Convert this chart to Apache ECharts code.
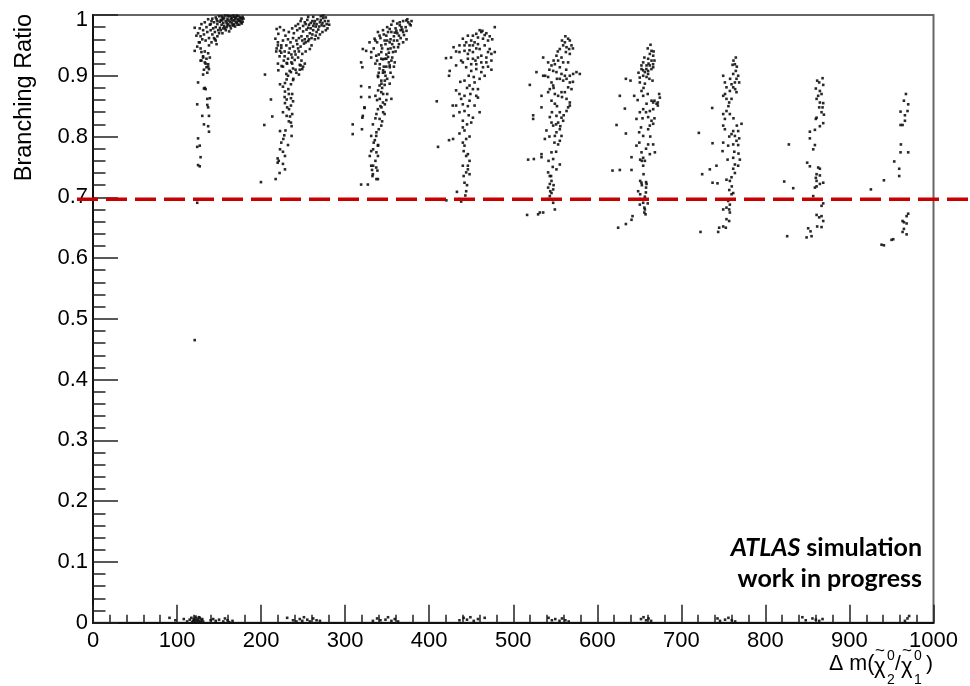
<!DOCTYPE html>
<html><head><meta charset="utf-8">
<script src="https://cdn.jsdelivr.net/npm/echarts@6/dist/echarts.min.js"></script>
<style>html,body{margin:0;padding:0;background:#fff}#c{width:970px;height:686px}</style>
</head><body><div id="c"></div>
<script>
const xTickLabels = ['0','100','200','300','400','500','600','700','800','900','1000'];
const yTickLabels = ['0','0.1','0.2','0.3','0.4','0.5','0.6','0.7','0.8','0.9','1'];
const refLineY = 0.697;
const yTitle = 'Branching Ratio';
const noteLine1 = ['ATLAS', 'simulation'];
const noteLine2 = 'work in progress';

const c1 = [
[150,0.998],[152,0.992],[154,0.996],[155,0.987],[157,0.999],[158,0.990],[160,0.994],[161,0.985],[162,0.998],[163,0.989],[165,0.995],[166,0.983],[167,0.999],[168,0.991],[170,0.996],[171,0.987],[172,0.993],[173,0.998],[175,0.990],[176,0.995],[178,0.997],[177,0.986],[174,0.984],[169,0.981],[164,0.978],[159,0.980],[156,0.982],[153,0.984],[151,0.979],[148,0.985],[147,0.993],[149,0.975],[146,0.980],[158,0.975],[162,0.973],[166,0.991],[171,0.999],[160,0.999],[155,0.993],[153,0.998],[174,0.992],[168,0.985],[163,0.982],[157,0.978],[150,0.970],[145,0.972],[144,0.988],[143,0.978],
[151,0.989],[153,0.991],[156,0.995],[159,0.987],[161,0.991],[164,0.993],[165,0.987],[167,0.983],[169,0.994],[170,0.989],[172,0.984],[173,0.990],[175,0.996],[176,0.988],[177,0.993],[178,0.989],[179,0.994],[155,0.978],[160,0.983],[148,0.990],[146,0.996],[142,0.994],[140,0.985],[152,0.975],[154,0.970],[148,0.965],[145,0.960],[147,0.952],[164,0.998],[168,0.997],
[141,0.990],[139,0.984],[137,0.993],[135,0.980],[133,0.988],[131,0.975],[129,0.985],[127,0.978],[125,0.970],[128,0.965],[132,0.968],[136,0.972],[140,0.975],[142,0.968],[138,0.962],[134,0.958],[130,0.960],[126,0.955],[144,0.962],[146,0.958],[141,0.955],[138,0.950],[124,0.948],[128,0.945],[133,0.940],[137,0.937],[131,0.932],[135,0.928],[139,0.930],[129,0.925],[134,0.920],[137,0.915],[132,0.910],[136,0.905],
[121,0.979],[123,0.966],[127,0.955],[121,0.941],[129,0.939],[131,0.930],[128,0.925],[133,0.922],[137,0.919],[135,0.914],[138,0.911],
[131,0.902],[125,0.889],[133,0.880],[134,0.878],[132,0.879],[139,0.863],[136,0.862],[136,0.852],[137,0.848],[124,0.853],[130,0.834],[138,0.834],[132,0.820],[137,0.817],[138,0.808],[125,0.797],[127,0.785],[124,0.783],[128,0.766],[125,0.753],[127,0.751],[124,0.691]
];
const c2 = [
[244,0.985],[247,0.990],[250,0.982],[252,0.988],[255,0.992],[257,0.984],[259,0.978],[261,0.990],[263,0.986],[265,0.981],[267,0.993],[268,0.976],[270,0.988],[272,0.983],[274,0.995],[276,0.990],[278,0.985],[279,0.978],[273,0.972],[270,0.968],[266,0.972],[262,0.975],[258,0.970],[254,0.976],[250,0.973],[246,0.978],[243,0.975],[241,0.982],[239,0.970],[237,0.978],[255,0.965],[260,0.962],[264,0.960],[252,0.960],[248,0.965],[245,0.962],[242,0.958],[238,0.962],[235,0.955],[232,0.960],[229,0.966],[226,0.958],[230,0.950],[234,0.945],[238,0.948],[243,0.952],[247,0.948],[251,0.953],[256,0.957],[260,0.950],[258,0.944],[253,0.940],[249,0.936],[245,0.940],[241,0.935],[237,0.930],[233,0.938],[228,0.940],[224,0.946],[220,0.950],[218,0.940],[222,0.932],[227,0.925],[231,0.920],[236,0.922],[240,0.926],[244,0.930],[248,0.925],[252,0.920],[250,0.915],[246,0.910],[242,0.905],[238,0.912],[234,0.908],[230,0.903],[226,0.915],[220,0.920],[274,0.999],[277,0.996],[271,0.998],[262,0.997],[256,0.997],
[248,0.994],[253,0.985],[256,0.979],[259,0.987],[262,0.982],[264,0.990],[266,0.985],[269,0.981],[271,0.992],[273,0.987],[275,0.982],[277,0.975],[280,0.990],[281,0.984],[261,0.968],[257,0.960],[253,0.955],[265,0.966],[268,0.962],[249,0.958],[244,0.945],[240,0.940],[236,0.935],[232,0.928],[228,0.932],[224,0.938],[218.5,0.977],[222.5,0.980],[220.5,0.969],[217,0.961],[220,0.955],[224,0.950],[218.5,0.945],[222.5,0.941],[233,0.972],[227,0.975],[246,0.918],[249,0.911],[247,0.917],
[204.6,0.902],[220.5,0.909],[224.4,0.916],[230.4,0.921],[237,0.920],[235.5,0.906],[230.4,0.894],[222.5,0.886],[228.4,0.888],[235.5,0.886],[238.3,0.895],[232.4,0.878],[228.4,0.874],[235.5,0.863],[237,0.870],[228.4,0.855],[230.4,0.861],[211.7,0.861],[233.2,0.845],[235.5,0.851],[213.3,0.833],[230.4,0.834],[234.4,0.833],[237,0.837],[203.8,0.819],[235.5,0.823],[236.3,0.817],[222.5,0.809],[236.3,0.801],[226.4,0.796],[227.6,0.802],[222.5,0.779],[228.4,0.768],[219.7,0.764],[219.7,0.757],[228.4,0.746],[217.3,0.730],[199.8,0.725],
[232,0.900],[238,0.893],[226,0.882],[233,0.870],[228,0.865],[238,0.858],[231,0.848],[226,0.840],[233,0.825],[229,0.810],[224,0.790],[232,0.786],[226,0.775],[221,0.760],[226,0.755],[222,0.740],[241,0.910],[245,0.902]
];
const c3 = [
[372.8,0.991],[376.8,0.985],[365,0.988],[367,0.980],[361,0.974],[353,0.977],[355,0.972],[349,0.966],[347,0.958],[339,0.972],[335,0.961],[329,0.955],[325,0.941],[321,0.944],[319,0.922],[320.5,0.914],[331,0.939],[337,0.933],[343,0.950],[351,0.944],[357,0.939],[363,0.947],[369,0.972],[373,0.974],[364,0.966],[358,0.958],[353,0.955],[343,0.939],[349,0.928],[353,0.917],[347,0.906],[359,0.922],[350,0.895],[353,0.887],[341,0.884],[343,0.873],[336,0.867],[350,0.870],[355,0.862],[345,0.856],[339,0.845],[347,0.837],[341,0.829],[333,0.820],[343,0.818],[337,0.801],[331,0.801],[339,0.785],[331,0.776],[339,0.768],[331,0.752],[337,0.749],[333,0.738],[339,0.730],[319,0.721],[327,0.721],[309,0.820],[309,0.804],[320.5,0.831],[323,0.848],[319,0.883],[329,0.881],
[350,0.980],[355,0.984],[360,0.978],[365,0.983],[368,0.976],[372,0.980],[375,0.988],[378,0.983],[362,0.970],[358,0.965],[354,0.960],[346,0.968],[342,0.962],[338,0.955],[344,0.945],[348,0.952],[356,0.952],[362,0.958],[366,0.962],[370,0.967],[373,0.960],[352,0.938],[356,0.930],[345,0.927],[340,0.935],[334,0.945],[331,0.930],[336,0.920],[341,0.912],[345,0.905],[349,0.915],[339,0.900],[343,0.892],[347,0.885],
[341.2,0.919],[347.2,0.928],[351.1,0.931],[355,0.925],[353.1,0.914],[345.2,0.909],[339.2,0.898],[343.2,0.887],[347.2,0.892],[357,0.898],[339.2,0.876],[345.2,0.870],[341.2,0.862],[347.2,0.853],[343.2,0.848],[345.2,0.840],[337.2,0.837],
[337.2,0.730],[332.5,0.735],[338.4,0.744],[333.3,0.752],[329.3,0.768],[337.2,0.774],[333.3,0.779],[339.2,0.786],[335.3,0.794],[337.2,0.807],[319,0.865],[329,0.865],[321,0.834],[323,0.847],[320,0.812],
[357,0.990],[362,0.986],[369,0.990],[374,0.993],[379,0.990],[366,0.975],[359,0.971],[351,0.972],[345,0.975],[341,0.966],[336,0.958],[350,0.958],[358,0.947],[364,0.952],[369,0.955],[360,0.940],[354,0.945],[349,0.935],[343,0.928],[338,0.925],[352,0.922],[358,0.915],[346,0.915],[340,0.905],[348,0.900],[354,0.905],[344,0.880],[338,0.860],[349,0.860],[342,0.850],[336,0.830],[344,0.825],[340,0.812],[334,0.790],[336,0.760],[332,0.745]
];
const c4 = [
[478,0.980],[462,0.972],[466,0.967],[463.3,0.974],[452,0.966],[456,0.969],[440,0.961],[444,0.955],[450,0.958],[452,0.950],[458,0.952],[460,0.944],[466,0.950],[429,0.947],[436,0.939],[442,0.941],[446,0.936],[452,0.939],[462,0.933],[474,0.936],[478,0.939],[468,0.930],[420,0.929],[424.4,0.908],[423.6,0.900],[432,0.917],[440,0.922],[444,0.914],[450,0.908],[456,0.911],[462,0.906],[466,0.900],[460,0.895],[468,0.922],[474,0.925],[442,0.892],[448,0.884],[454,0.889],[452,0.878],[456,0.867],[458,0.864],[442,0.867],[438,0.862],[432,0.876],[409,0.858],[432,0.851],[428,0.851],[440,0.853],[448,0.859],[454,0.851],[460,0.840],[442,0.842],[452,0.831],[450,0.823],[429,0.834],[440,0.826],[440,0.815],[442,0.810],[444,0.796],[440,0.790],[441,0.776],[446,0.771],[444,0.768],[448,0.760],[440,0.752],[444,0.741],[446,0.746],[448,0.738],[442,0.724],[444,0.710],[433,0.709],[436,0.697],[438,0.693],[420.4,0.695],[410.5,0.783],[423.6,0.794],[428.4,0.796],
[448,0.950],[454,0.955],[458,0.963],[464,0.961],[470,0.958],[446,0.966],[442,0.950],[452,0.928],[458,0.930],[462,0.922],[456,0.919],[450,0.919],[464,0.914],[470,0.939],[472,0.944],
[460,0.975],[468,0.970],[472,0.965],[475,0.960],[448,0.942],[456,0.945],[436,0.950],[432,0.940],[426,0.930],[438,0.925],[446,0.928],[455,0.925],[470,0.915],[474,0.910],[447,0.900],[453,0.898],[437,0.890],[445,0.880],[458,0.878],[449,0.870],[436,0.870],[446,0.850],[436,0.840],[447,0.835],[445,0.820],[436,0.805],[448,0.800],[442,0.785],[446,0.752],[441,0.735],[445,0.720],[443,0.703]
];
const c5 = [
[565.3,0.961],[567.3,0.958],[561.4,0.955],[559.4,0.950],[563.4,0.947],[566.5,0.944],[569.3,0.950],[555.4,0.944],[562.6,0.939],[567.3,0.936],[551.4,0.933],[557.4,0.930],[553.4,0.925],[559.4,0.922],[565.3,0.922],[535.6,0.930],[541.5,0.922],[545.5,0.917],[549.5,0.919],[555.4,0.914],[547.5,0.908],[551.4,0.906],[557.4,0.903],[561.4,0.900],[555.4,0.895],[559.4,0.892],[575.2,0.906],[579.2,0.903],[571.3,0.903],[567.3,0.900],[563.4,0.895],[567.3,0.889],[565.3,0.881],[569.3,0.878],[561.4,0.873],[527.6,0.906],[535.6,0.900],[541.5,0.898],[545.5,0.889],[547.5,0.884],[543.5,0.878],[519.7,0.885],[533.6,0.867],[541.5,0.873],[549.5,0.870],[553.4,0.867],[557.4,0.873],[545.5,0.859],[549.5,0.854],[563.4,0.862],[567.3,0.856],[565.3,0.848],[567.3,0.851],[563.4,0.842],[533.6,0.848],[555.4,0.840],[551.4,0.834],[557.4,0.831],[559.4,0.826],[553.4,0.823],[523.7,0.835],[523.7,0.829],[543.5,0.832],[545.5,0.823],[547.5,0.818],[555.4,0.812],[551.4,0.807],[557.4,0.801],[555.4,0.793],[553.4,0.787],[539.5,0.810],[537.6,0.796],[549.5,0.801],[533.6,0.771],[533.6,0.766],[517.7,0.762],[524.5,0.763],[545.5,0.774],[547.5,0.763],[555.4,0.754],[551.4,0.746],[541.5,0.741],[543.5,0.735],[545.5,0.727],[543.5,0.722],[541.5,0.716],[547.5,0.713],[545.5,0.707],[543.5,0.702],[541.5,0.697],[547.5,0.691],[549.5,0.680],[535.6,0.675],[529.6,0.672],[516.5,0.671],[531.6,0.675],
[562,0.965],[558,0.958],[571,0.945],[553,0.940],[548,0.925],[563,0.910],[543,0.910],[538,0.900],[552,0.895],[571,0.890],[548,0.880],[558,0.865],[552,0.850],[546,0.840],[560,0.835],[551,0.820],[556,0.817],[543,0.800],[549,0.790],[551,0.775],[542,0.760],[547,0.750],[545,0.735],[548,0.720],[544,0.710]
];
const c6 = [
[663.3,0.951],[664.5,0.941],[662.5,0.936],[666.5,0.933],[660.5,0.928],[664.5,0.925],[654.6,0.922],[658.6,0.917],[666.5,0.914],[652.6,0.911],[656.6,0.906],[660.5,0.908],[654.6,0.900],[658.6,0.898],[634,0.895],[639.5,0.892],[665.7,0.892],[650.6,0.889],[656.6,0.887],[652.6,0.875],[654.6,0.867],[643.9,0.867],[626.8,0.867],[673.6,0.870],[674.4,0.864],[664.5,0.859],[666.5,0.856],[670.5,0.854],[658.6,0.854],[654.6,0.845],[662.5,0.842],[666.5,0.845],[632.8,0.846],[650.6,0.840],[646.6,0.829],[653.8,0.830],[660.5,0.832],[664.5,0.826],[662.5,0.818],[666.5,0.821],[660.5,0.812],[622.9,0.819],[634,0.805],[649.8,0.807],[654.6,0.801],[646.6,0.785],[660.5,0.787],[666.5,0.787],[652.6,0.774],[662.5,0.771],[668.5,0.774],[640.7,0.766],[654.6,0.765],[656.6,0.760],[654.6,0.752],[618.1,0.744],[626.8,0.745],[640.7,0.745],[652.6,0.724],[658.6,0.722],[648.6,0.710],[657.8,0.708],[656.6,0.701],[650.6,0.697],[650.6,0.688],[654.6,0.691],[656.6,0.680],[657.4,0.672],[641.9,0.669],[640.7,0.663],[634,0.656],[624.8,0.650],
[652.5,0.917],[654.5,0.909],[658.4,0.911],[662.4,0.917],[666.4,0.919],[664.4,0.911],[660.4,0.903],[650.5,0.897],[672,0.851],[668,0.859],[672,0.856],[653,0.760],[651,0.762],[651,0.727],[653,0.720],[658,0.725],[658,0.716],[656,0.683],[656,0.675],
[660,0.945],[667,0.940],[656,0.930],[661,0.920],[668,0.925],[649,0.905],[662,0.895],[655,0.880],[660,0.870],[648,0.860],[658,0.840],[668,0.830],[652,0.815],[663,0.800],[650,0.790],[658,0.780],[655,0.738],[651,0.705],[660,0.690]
];
const c7 = [
[764.8,0.930],[763.7,0.919],[760.9,0.918],[764.8,0.908],[761.7,0.903],[767.6,0.900],[765.6,0.895],[768.8,0.889],[763.7,0.889],[759.7,0.886],[749.8,0.900],[751.8,0.889],[753.7,0.881],[757.7,0.875],[765.6,0.873],[761.7,0.881],[749.8,0.867],[753.7,0.862],[759.7,0.862],[756.9,0.856],[736.7,0.847],[753.7,0.842],[749.8,0.837],[757.7,0.837],[751.8,0.829],[749.8,0.818],[751.8,0.812],[771.6,0.821],[761.7,0.809],[767.6,0.809],[759.7,0.804],[763.7,0.801],[768.8,0.797],[765.6,0.793],[720.8,0.806],[737.1,0.789],[749.8,0.790],[755.7,0.785],[761.7,0.787],[767.6,0.786],[749,0.776],[761.7,0.765],[769.6,0.762],[763.7,0.754],[767.6,0.752],[761.7,0.747],[741.8,0.752],[733.9,0.746],[724.8,0.738],[763.7,0.740],[759.7,0.733],[753.7,0.729],[757.7,0.727],[737.1,0.724],[743,0.723],[761.7,0.707],[759.7,0.705],[755.7,0.694],[757.7,0.688],[749.8,0.680],[753.7,0.683],[756.9,0.680],[757.7,0.675],[753.7,0.664],[756.9,0.661],[749.8,0.652],[752.9,0.650],[745,0.650],[743.8,0.643],[722.8,0.643],
[762,0.925],[766,0.915],[758,0.895],[764,0.878],[752,0.870],[756,0.850],[762,0.830],[766,0.818],[757,0.800],[763,0.775],[768,0.772],[755,0.762],[760,0.718],[757,0.712]
];
const c8 = [
[868,0.896],[861.6,0.892],[864,0.889],[868.8,0.885],[860,0.879],[864.8,0.875],[866.8,0.870],[862.8,0.867],[860.9,0.862],[864.8,0.856],[868.8,0.855],[864,0.848],[868,0.848],[866.8,0.840],[869.6,0.836],[860.9,0.831],[860,0.829],[864.8,0.817],[868.8,0.822],[858.9,0.811],[852.9,0.808],[852.9,0.797],[858.9,0.786],[856.9,0.779],[827.9,0.787],[849.7,0.757],[852.9,0.751],[862.8,0.749],[864.8,0.747],[860.9,0.738],[864.8,0.736],[860,0.732],[860.9,0.727],[868.8,0.724],[864.8,0.722],[860.9,0.718],[858.9,0.716],[822.4,0.726],[833.1,0.715],[856.9,0.702],[868.8,0.690],[866.8,0.686],[860.9,0.671],[866.8,0.669],[864,0.667],[868.8,0.661],[861.6,0.652],[866.8,0.651],[850.9,0.649],[853.7,0.644],[849,0.634],[854.9,0.636],[825.9,0.636]
];
const c9 = [
[967.2,0.870],[964.8,0.859],[969.9,0.853],[969.1,0.842],[960.8,0.841],[966,0.835],[966,0.826],[960.8,0.819],[963.2,0.819],[961.2,0.787],[960.8,0.774],[969.9,0.774],[953.3,0.759],[959.2,0.747],[959.2,0.735],[941,0.728],[925.5,0.713],[969.9,0.673],[968,0.669],[963.2,0.661],[964.8,0.659],[968,0.657],[964.8,0.648],[963.2,0.643],[968,0.639],[952.1,0.631],[950.1,0.630],[938.2,0.622],[941,0.621]
];
const nearZero = [
[91,0.008],[98,0.004],[108,0.006],[112,0.002],[115,0.005],[117,0.008],[119,0.003],[120,0.006],[121,0.001],[122,0.004],[123,0.007],[124,0.002],[125,0.005],[126,0.003],[127,0.008],[128,0.001],[129,0.004],[130,0.006],[131,0.002],[126,0.009],[122,0.010],[118,0.001],[140,0.004],[143,0.006],[146,0.003],[150,0.005],[155,0.002],[157,0.007],[160,0.004],[162,0.001],[166,0.003],
[231,0.008],[238,0.004],[242,0.002],[246,0.006],[249,0.003],[251,0.009],[255,0.005],[258,0.002],[262,0.007],[266,0.004],[270,0.003],
[333,0.003],[338,0.007],[342,0.004],[348,0.005],[351,0.009],[355,0.003],[359,0.006],[363,0.002],
[436,0.004],[441,0.008],[445,0.005],[449,0.009],[453,0.003],[458,0.006],[466,0.008],
[542,0.008],[546,0.004],[550,0.006],[555,0.003],[558,0.007],[562,0.004],[566,0.002],
[652,0.006],[655,0.009],[658,0.004],[661,0.007],[664,0.003],
[743,0.007],[746,0.003],[752,0.005],[756,0.008],[760,0.004],[764,0.002],
[844,0.009],[848,0.004],[856,0.007],[860,0.005],[864,0.003],[868,0.006],
[966,0.003],[969,0.007],[971,0.011]
];
const outlier = [[121,0.465]];

const points = [].concat(c1, c2, c3, c4, c5, c6, c7, c8, c9, nearZero, outlier);

const chart = echarts.init(document.getElementById('c'), null, {renderer:'canvas'});
const LF = '"Liberation Sans", Arial, sans-serif';
const NF = 'Lato, "Open Sans", sans-serif';
const tickStyle = {color:'#222', width:1.5};
chart.setOption({
  animation: false,
  backgroundColor: '#fff',
  grid: [
    {left:93, right:36.5, top:15, bottom:63.3, show:true, borderColor:'#666', borderWidth:2, backgroundColor:'transparent', containLabel:false, outerBoundsMode:'none'},
    {left:77, right:0, top:15, bottom:63.3, show:false, containLabel:false, outerBoundsMode:'none'}
  ],
  xAxis: [
    {type:'value', gridIndex:0, min:0, max:1000, interval:100,
     axisLine:{show:true, onZero:false, lineStyle:{color:'#111', width:2}},
     axisTick:{show:true, inside:true, length:18, lineStyle:tickStyle},
     minorTick:{show:true, splitNumber:5, length:8, lineStyle:tickStyle},
     splitLine:{show:false}, minorSplitLine:{show:false},
     axisLabel:{show:true, margin:7, fontSize:22, color:'#000', fontFamily:LF, showMinLabel:true, showMaxLabel:true,
       formatter:(v)=>xTickLabels[Math.round(v/100)]}},
    {type:'value', gridIndex:1, min:0, max:1, show:false}
  ],
  yAxis: [
    {type:'value', gridIndex:0, min:0, max:1, interval:0.1,
     axisLine:{show:true, onZero:false, lineStyle:{color:'#111', width:2}},
     axisTick:{show:true, inside:true, length:25, lineStyle:tickStyle},
     minorTick:{show:true, splitNumber:5, length:12.5, lineStyle:tickStyle},
     splitLine:{show:false}, minorSplitLine:{show:false},
     axisLabel:{show:true, margin:5, fontSize:22, color:'#000', fontFamily:LF, showMinLabel:true, showMaxLabel:true,
       formatter:(v)=>{const i=Math.round(v*10); return i===10 ? '{top|'+yTickLabels[i]+'}' : yTickLabels[i];},
       rich:{top:{fontSize:22, fontFamily:LF, color:'#000', padding:[10,0,0,0]}}}},
    {type:'value', gridIndex:1, min:0, max:1, show:false}
  ],
  series: [
    {type:'scatter', xAxisIndex:0, yAxisIndex:0, data:points, symbol:'rect', symbolSize:2.6,
     itemStyle:{color:'#111', opacity:0.9}, silent:true, z:2},
    {type:'line', xAxisIndex:1, yAxisIndex:1, data:[[0,refLineY],[1,refLineY]], symbol:'none',
     lineStyle:{color:'#c80000', width:3.5, type:[21,8]}, silent:true, z:5}
  ],
  graphic: [
    {type:'text', x:25, y:14, rotation:Math.PI/2,
     style:{text:yTitle, fontSize:23.5, fontFamily:LF, fill:'#000', align:'right', verticalAlign:'middle'}},
    {type:'text', x:922, y:548,
     style:{text:'{i|'+noteLine1[0]+'} {b|'+noteLine1[1]+'}', align:'right', verticalAlign:'middle',
       rich:{i:{fontSize:25, fontWeight:'bold', fontStyle:'italic', fontFamily:NF, fill:'#000'},
             b:{fontSize:25, fontWeight:'bold', fontFamily:NF, fill:'#000'}},
       fontSize:25, fontWeight:'bold', fontFamily:NF, fill:'#000'}},
    {type:'text', x:922, y:579,
     style:{text:noteLine2, align:'right', verticalAlign:'middle', fontSize:25, fontWeight:'bold', fontFamily:NF, fill:'#000'}},
    {type:'group', children:[
      {type:'text', x:829, y:664, style:{text:'Δ m(', fontSize:21.5, fontFamily:LF, fill:'#000', align:'left', verticalAlign:'middle'}},
      {type:'text', x:874, y:667, style:{text:'χ', fontSize:22, fontFamily:LF, fill:'#000', align:'left', verticalAlign:'middle'}},
      {type:'text', x:875, y:651, style:{text:'~', fontSize:17, fontFamily:LF, fill:'#000', align:'left', verticalAlign:'middle'}},
      {type:'text', x:887, y:656, style:{text:'0', fontSize:14, fontFamily:LF, fill:'#000', align:'left', verticalAlign:'middle'}},
      {type:'text', x:887, y:680, style:{text:'2', fontSize:14, fontFamily:LF, fill:'#000', align:'left', verticalAlign:'middle'}},
      {type:'text', x:895, y:664, style:{text:'/', fontSize:21, fontFamily:LF, fill:'#000', align:'left', verticalAlign:'middle'}},
      {type:'text', x:901, y:667, style:{text:'χ', fontSize:22, fontFamily:LF, fill:'#000', align:'left', verticalAlign:'middle'}},
      {type:'text', x:902, y:651, style:{text:'~', fontSize:17, fontFamily:LF, fill:'#000', align:'left', verticalAlign:'middle'}},
      {type:'text', x:914, y:656, style:{text:'0', fontSize:14, fontFamily:LF, fill:'#000', align:'left', verticalAlign:'middle'}},
      {type:'text', x:914, y:680, style:{text:'1', fontSize:14, fontFamily:LF, fill:'#000', align:'left', verticalAlign:'middle'}},
      {type:'text', x:926, y:664, style:{text:')', fontSize:21, fontFamily:LF, fill:'#000', align:'left', verticalAlign:'middle'}}
    ]}
  ]
});
</script>
</body></html>
